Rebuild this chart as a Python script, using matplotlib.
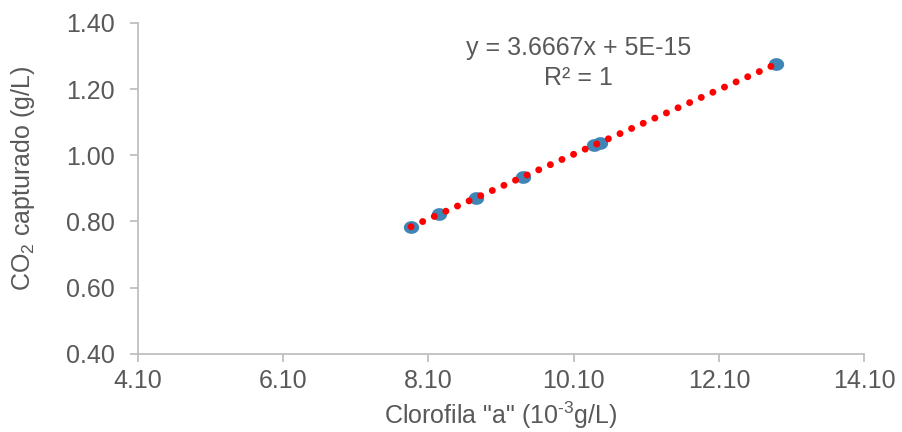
import numpy as np
import matplotlib
matplotlib.use("Agg")
import matplotlib.pyplot as plt
from matplotlib.path import Path

plt.rcParams['font.family'] = ['Liberation Sans', 'DejaVu Sans']
plt.rcParams['mathtext.fontset'] = 'custom'
plt.rcParams['mathtext.rm'] = 'Liberation Sans'
plt.rcParams['mathtext.it'] = 'Liberation Sans'

# Chlorophyll "a" vs captured CO2
clorofila = [7.86, 8.25, 8.76, 9.40, 10.38, 10.46, 12.89]
co2 = [0.784, 0.823, 0.871, 0.935, 1.031, 1.037, 1.276]
x_ticks = [4.10, 6.10, 8.10, 10.10, 12.10, 14.10]
y_ticks = [0.40, 0.60, 0.80, 1.00, 1.20, 1.40]
equation_line = "y = 3.6667x + 5E-15"
r2_line = "R² = 1"

text_color = "#595959"
axis_color = "#BFBFBF"
point_color = "#3F86B6"
fs = 18

# slightly flattened round marker
theta = np.linspace(0, 2 * np.pi, 60)
ellipse = Path(np.column_stack([1.2 * np.cos(theta), np.sin(theta)]), closed=True)

fig = plt.figure(figsize=(9.02, 4.32), dpi=100)
ax = fig.add_axes([0.153, 0.181, 0.805, 0.766])

ax.plot(clorofila, co2, linestyle="none", marker=ellipse, markersize=11,
        color=point_color, markeredgewidth=0, zorder=3)

# linear trend line (red round dots with faint blue dots in between)
slope, intercept = np.polyfit(clorofila, co2, 1)
xt = np.array([min(clorofila), max(clorofila)])
yt = slope * xt + intercept
ax.plot(xt, yt, color=point_color, linestyle=(4.55, (0.01, 4.55)),
        linewidth=2.0, dash_capstyle="round", zorder=4)
ax.plot(xt, yt, color="#FF0000", linestyle=(0, (0.01, 1.82)),
        linewidth=5, dash_capstyle="round", zorder=5)

ax.set_xlim(4.10, 14.10)
ax.set_ylim(0.40, 1.40)
ax.set_xticks(x_ticks)
ax.set_xticklabels([f"{v:.2f}" for v in x_ticks])
ax.set_yticks(y_ticks)
ax.set_yticklabels([f"{v:.2f}" for v in y_ticks])

for side in ("top", "right"):
    ax.spines[side].set_visible(False)
for side in ("left", "bottom"):
    ax.spines[side].set_color(axis_color)
    ax.spines[side].set_linewidth(1.3)

ax.tick_params(axis="both", colors=axis_color, labelcolor=text_color,
               labelsize=fs, length=5.8, width=1.3, direction="out")
ax.tick_params(axis="x", pad=5)
ax.tick_params(axis="y", pad=11)

ax.set_xlabel(r'Clorofila "a" (10$^{\text{-3}}$g/L)', fontsize=fs,
              color=text_color, labelpad=5)
ax.set_ylabel("CO$_2$ capturado (g/L)", fontsize=fs, color=text_color)
ax.yaxis.set_label_coords(-0.139, 0.529)

ax.text(0.607, 0.924, equation_line, transform=ax.transAxes, ha="center",
        va="center", fontsize=fs, color=text_color)
ax.text(0.607, 0.834, r2_line, transform=ax.transAxes, ha="center",
        va="center", fontsize=fs, color=text_color)

fig.savefig("out.png", dpi=100)
